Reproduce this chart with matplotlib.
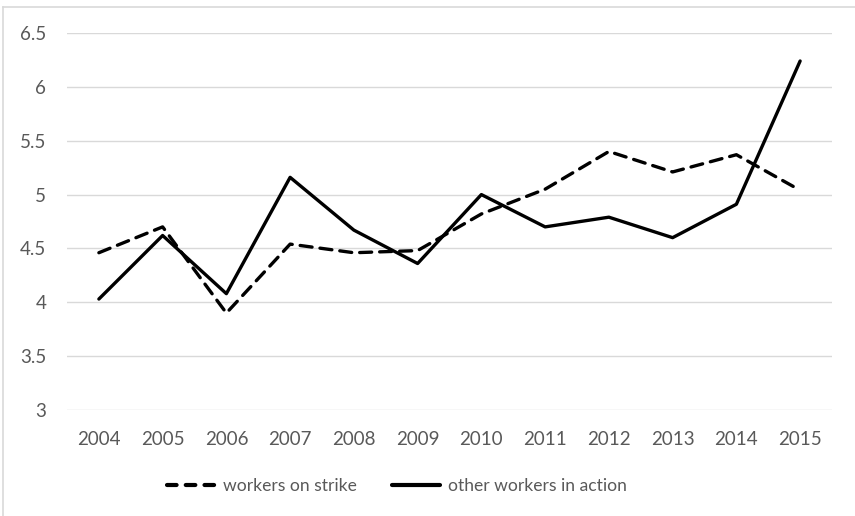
import matplotlib
matplotlib.use("Agg")
import matplotlib.pyplot as plt
from matplotlib.lines import Line2D

years = ["2004", "2005", "2006", "2007", "2008", "2009", "2010", "2011", "2012", "2013", "2014", "2015"]
workers_on_strike = [4.46, 4.70, 3.90, 4.54, 4.46, 4.48, 4.82, 5.05, 5.40, 5.21, 5.37, 5.04]
other_workers_in_action = [4.03, 4.62, 4.08, 5.16, 4.67, 4.36, 5.00, 4.70, 4.79, 4.60, 4.91, 6.24]
y_ticks = [3, 3.5, 4, 4.5, 5, 5.5, 6, 6.5]
y_tick_labels = ["3", "3.5", "4", "4.5", "5", "5.5", "6", "6.5"]

plt.rcParams['font.family'] = ['Lato', 'DejaVu Sans']
text_color = "#595959"
grid_color = "#d9d9d9"
fs = 13.5
leg_fs = 12.6

W, H = 855, 516
fig = plt.figure(figsize=(W / 100, H / 100), dpi=100)
ax = fig.add_axes([67 / W, 1 - 410 / H, (832 - 67) / W, (410 - 33) / H])

x = list(range(len(years)))
ax.plot(x, workers_on_strike, color="black", lw=2.4, linestyle=(0, (3.6, 2.4)),
        dash_capstyle="round", solid_joinstyle="round", label="workers on strike")
ax.plot(x, other_workers_in_action, color="black", lw=2.4, solid_capstyle="round",
        solid_joinstyle="round", label="other workers in action")

ax.set_xlim(-0.5, len(years) - 0.5)
ax.set_ylim(3, 6.5)
ax.set_yticks(y_ticks)
ax.set_yticklabels(y_tick_labels)
ax.set_xticks(x)
ax.set_xticklabels(years)
ax.yaxis.grid(True, color=grid_color, lw=1.0)
ax.set_axisbelow(True)
for s in ax.spines.values():
    s.set_visible(False)
ax.tick_params(axis="both", length=0, labelsize=fs, colors=text_color)
ax.tick_params(axis="x", pad=15)
ax.tick_params(axis="y", pad=15)

handles = [
    Line2D([0], [0], color="black", lw=3.0, linestyle=(0, (2.3, 2.2)), dash_capstyle="round"),
    Line2D([0], [0], color="black", lw=3.0, solid_capstyle="round"),
]
leg = fig.legend(handles, ["workers on strike", "other workers in action"], ncol=2,
                 loc="center", bbox_to_anchor=(397 / W, 1 - 486 / H), frameon=False,
                 fontsize=leg_fs, handlelength=2.75, handletextpad=0.45, columnspacing=2.0)
for t in leg.get_texts():
    t.set_color(text_color)

# outer chart-area border (cropped at right and bottom)
fig.add_artist(Line2D([3 / W, 3 / W], [0, 1 - 7 / H], color=grid_color, lw=1.2))
fig.add_artist(Line2D([3 / W, 1], [1 - 7 / H, 1 - 7 / H], color=grid_color, lw=1.2))

fig.savefig("out.png", dpi=100)
